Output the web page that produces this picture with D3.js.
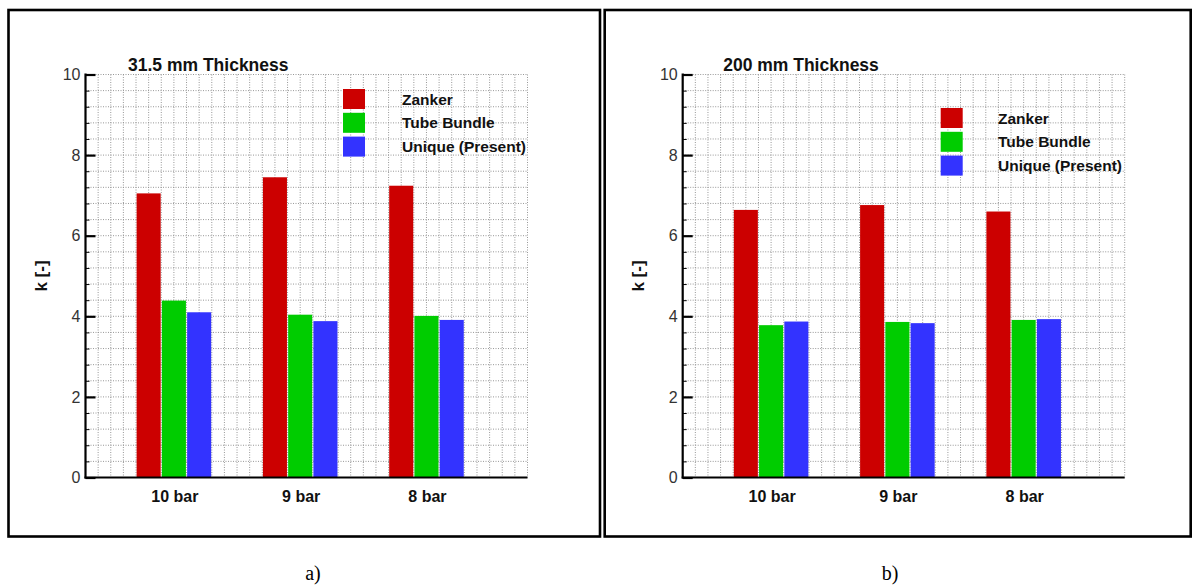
<!DOCTYPE html>
<html>
<head>
<meta charset="utf-8">
<script src="https://cdn.jsdelivr.net/npm/d3@7"></script>
<style>
  html, body { margin: 0; padding: 0; background: #fff; }
  svg { display: block; }
</style>
</head>
<body>
<svg id="fig" width="1192" height="586"></svg>
<script>
// Pressure levels (categories) and loss coefficient k for each model
const categories = ["10 bar", "9 bar", "8 bar"];
const seriesNames = ["Zanker", "Tube Bundle", "Unique (Present)"];
const seriesColors = ["#cc0000", "#00cc00", "#3333ff"];

// 31.5 mm thickness
const zankerA = [7.05, 7.45, 7.24];
const tubeA   = [4.39, 4.04, 4.01];
const uniqueA = [4.10, 3.88, 3.91];

// 200 mm thickness
const zankerB = [6.64, 6.76, 6.60];
const tubeB   = [3.78, 3.86, 3.91];
const uniqueB = [3.87, 3.83, 3.93];

const yTicks = [0, 2, 4, 6, 8, 10];

const svg = d3.select("#fig");

function drawPanel(opt) {
  const g = svg.append("g");

  // frame around the panel
  g.append("rect")
    .attr("x", opt.frame[0]).attr("y", opt.frame[1])
    .attr("width", opt.frame[2]).attr("height", opt.frame[3])
    .attr("fill", "none").attr("stroke", "#000").attr("stroke-width", 2.6);

  // category positions are 1, 2, 3; each bar spans 0.2 of a unit
  const x = d3.scaleLinear().domain([0.3, 3.8]).range([opt.left, opt.left + 442]);
  const y = d3.scaleLinear().domain([0, 10]).range([477.5, 74.5]);

  // dotted grid: 0.1 in x, 0.4 in y
  const gx = d3.range(4, 39).map(v => v / 10);
  const gy = d3.range(1, 26).map(v => v * 0.4);
  g.append("g").selectAll("line").data(gx).join("line")
    .attr("x1", d => x(d)).attr("x2", d => x(d))
    .attr("y1", y(10)).attr("y2", y(0))
    .attr("stroke", "#8c8c8c").attr("stroke-width", 0.9)
    .attr("stroke-dasharray", "1,1.5");
  g.append("g").selectAll("line").data(gy).join("line")
    .attr("x1", x(0.3)).attr("x2", x(3.8))
    .attr("y1", d => y(d)).attr("y2", d => y(d))
    .attr("stroke", "#8c8c8c").attr("stroke-width", 0.9)
    .attr("stroke-dasharray", "1,1.5");

  // bars
  const series = [opt.zanker, opt.tube, opt.unique];
  const offsets = [-0.3, -0.1, 0.1];
  series.forEach((vals, si) => {
    g.append("g").selectAll("rect").data(vals).join("rect")
      .attr("x", (d, i) => x(i + 1 + offsets[si]) + 0.6)
      .attr("width", x(0.5) - x(0.3) - 1.2)
      .attr("y", d => y(d))
      .attr("height", d => y(0) - y(d))
      .attr("fill", seriesColors[si]);
  });

  // y axis with inward ticks
  const yAxis = d3.axisRight(y).tickValues(yTicks).tickSize(10).tickFormat("");
  const ya = g.append("g").attr("transform", `translate(${opt.left},0)`).call(yAxis);
  ya.select(".domain").remove();
  ya.selectAll(".tick line").attr("stroke", "#000").attr("stroke-width", 2.2);
  const yMinor = d3.axisRight(y).tickValues(gy.filter(v => Math.abs(v / 2 - Math.round(v / 2)) > 1e-6)).tickSize(4).tickFormat("");
  const ym = g.append("g").attr("transform", `translate(${opt.left},0)`).call(yMinor);
  ym.select(".domain").remove();
  ym.selectAll(".tick line").attr("stroke", "#000").attr("stroke-width", 1);

  g.append("line")
    .attr("x1", opt.left).attr("x2", opt.left)
    .attr("y1", y(10) - 1).attr("y2", y(0) + 1)
    .attr("stroke", "#000").attr("stroke-width", 2.2);
  g.append("line")
    .attr("x1", opt.left - 1).attr("x2", x(3.8))
    .attr("y1", y(0)).attr("y2", y(0))
    .attr("stroke", "#000").attr("stroke-width", 2.2);

  // y tick labels
  g.append("g").selectAll("text").data(yTicks).join("text")
    .attr("x", opt.left - 5).attr("y", d => y(d))
    .attr("dy", "0.36em")
    .attr("text-anchor", "end")
    .attr("font-family", "Liberation Sans, Arial, sans-serif")
    .attr("font-size", 16).attr("fill", "#333")
    .text(d => d);

  // category labels
  g.append("g").selectAll("text").data(categories).join("text")
    .attr("x", (d, i) => x(i + 1) + 1).attr("y", 502)
    .attr("text-anchor", "middle")
    .attr("font-family", "Liberation Sans, Arial, sans-serif")
    .attr("font-weight", "bold").attr("font-size", 16).attr("fill", "#111")
    .text(d => d);

  // axis title
  g.append("text")
    .attr("transform", `translate(${opt.left - 39},276) rotate(-90)`)
    .attr("text-anchor", "middle")
    .attr("font-family", "Liberation Sans, Arial, sans-serif")
    .attr("font-weight", "bold").attr("font-size", 17).attr("fill", "#111")
    .text("k [-]");

  // panel title
  g.append("text")
    .attr("x", opt.left + opt.titleDx).attr("y", 71)
    .attr("font-family", "Liberation Sans, Arial, sans-serif")
    .attr("font-weight", "bold").attr("font-size", 17.5).attr("fill", "#111")
    .text(opt.title);

  // legend
  const lg = g.append("g");
  seriesNames.forEach((name, i) => {
    lg.append("rect")
      .attr("x", opt.legend[0]).attr("y", opt.legend[1] + i * 23.8)
      .attr("width", 22).attr("height", 20)
      .attr("fill", seriesColors[i]);
    lg.append("text")
      .attr("x", opt.legend[2]).attr("y", opt.legend[1] + 10 + i * 23.8)
      .attr("dy", "0.36em")
      .attr("font-family", "Liberation Sans, Arial, sans-serif")
      .attr("font-weight", "bold").attr("font-size", 15.5).attr("fill", "#111")
      .text(name);
  });

  // sub-figure letter
  svg.append("text")
    .attr("x", opt.letterX).attr("y", 580)
    .attr("text-anchor", "middle")
    .attr("font-family", "Liberation Serif, Times New Roman, serif")
    .attr("font-size", 20).attr("fill", "#000")
    .text(opt.letter);
}

drawPanel({
  frame: [8.5, 10, 591.5, 526.5],
  left: 85.5, title: "31.5 mm Thickness", titleDx: 42.5,
  zanker: zankerA, tube: tubeA, unique: uniqueA,
  legend: [343, 89, 402],
  letter: "a)", letterX: 313
});

drawPanel({
  frame: [604.7, 10, 586, 526.5],
  left: 682.7, title: "200 mm Thickness", titleDx: 40.5,
  zanker: zankerB, tube: tubeB, unique: uniqueB,
  legend: [940.7, 108, 998],
  letter: "b)", letterX: 890
});
</script>
</body>
</html>
